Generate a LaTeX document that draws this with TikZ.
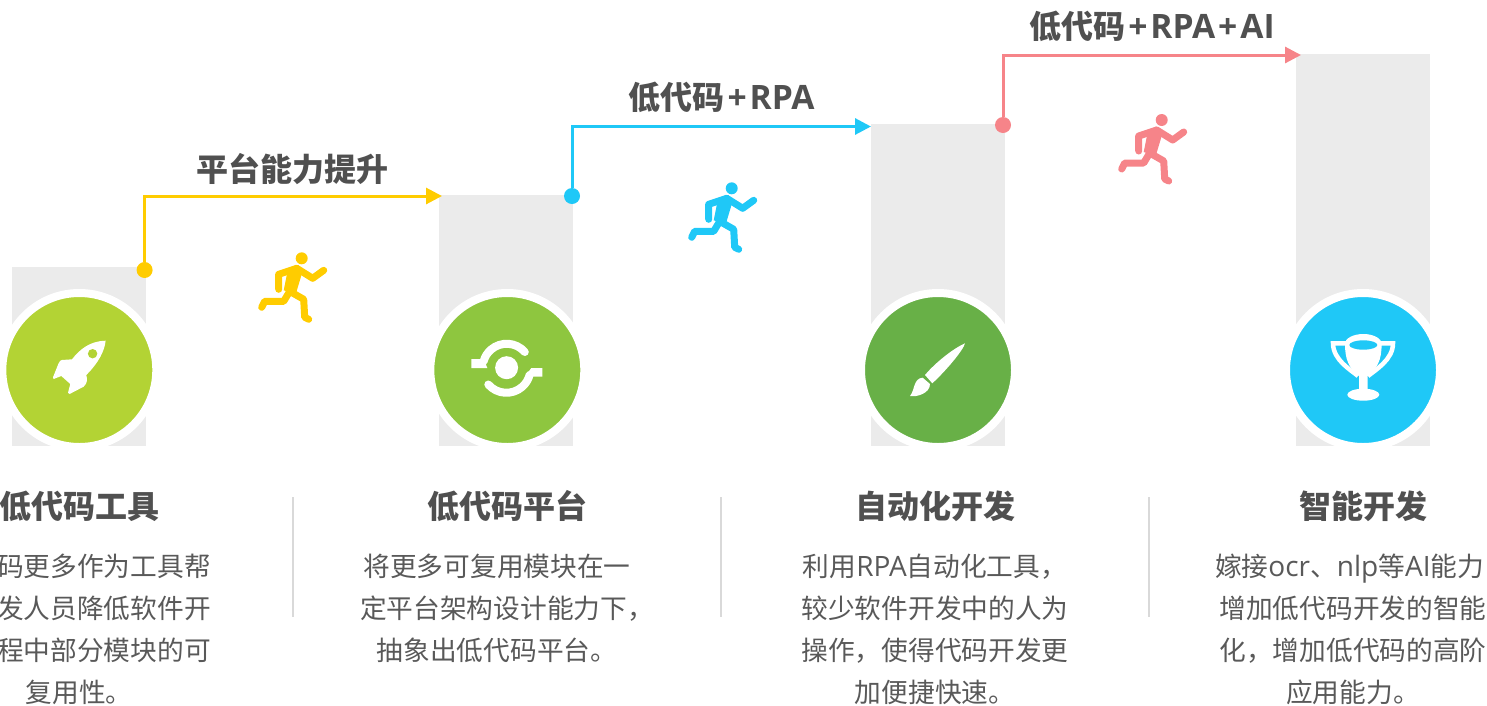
\documentclass[tikz,border=0pt]{standalone}
\usepackage{fontspec}
\setmainfont{Noto Sans CJK SC}
\newfontfamily\latfont[Scale=1.05]{Open Sans}
\usetikzlibrary{arrows.meta}
\definecolor{barfill}{HTML}{EBEBEB}
\definecolor{textgray}{HTML}{595959}
\definecolor{headgray}{HTML}{505050}
\definecolor{sepgray}{HTML}{D9D9D9}
\definecolor{runyellow}{HTML}{FFCC00}
\definecolor{runblue}{HTML}{1FC8F7}
\definecolor{runpink}{HTML}{F68489}
\definecolor{limegreen}{HTML}{B3D334}
\definecolor{leafgreen}{HTML}{8EC63F}
\definecolor{grassgreen}{HTML}{68B047}
\newcommand{\plusgap}{\hspace{3pt}+\hspace{3pt}}
\tikzset{
  badge/.style={circle, draw=white, line width=8pt, minimum size=154pt, inner sep=0pt},
  dot/.style={circle, minimum size=16pt, inner sep=0pt},
  riser/.style={line width=3pt, -{Triangle[length=16pt, width=16pt]}},
  steptitle/.style={text=headgray, font=\fontsize{32}{38}\selectfont\bfseries, inner sep=0pt},
  bodytext/.style={text=textgray, font=\fontsize{26.7}{42}\selectfont, inner sep=0pt},
  sepline/.style={draw=sepgray, line width=1.5pt},
  runner/.pic={
    \fill (0,0) circle (6);
    \fill[line join=round] (-5,7) -- (0,16) -- (-6,36) -- (-18,32) -- (-15,17) -- cycle;
    \draw[line width=7pt, line cap=round, line join=round] (-5,10) -- (-23,16) -- (-23,31);
    \draw[line width=7pt, line cap=round, line join=round] (-5,10) -- (11,20) -- (22,12);
    \draw[line width=7pt, line cap=round, line join=round] (-12,33) -- (2,41) -- (3,59) -- (7,61);
    \draw[line width=7pt, line cap=round, line join=round] (-12,33) -- (-18,43) -- (-37,43) -- (-40,49);
  },
  rocketicon/.pic={
    \fill[white] (26.3,-29.3) .. controls (25.5,-20) and (20,-8) .. (7,5)
      .. controls (8,9) and (8.5,13) .. (4.3,16.7) -- (-9.7,24) -- (-11.3,22.7) -- (-9,14) -- (-18,6)
      -- (-25.7,9) -- (-26.3,7.3) -- (-20.7,-6.7) .. controls (-19.5,-9) and (-18.5,-10) .. (-17.3,-10)
      -- (-7.3,-10.7) .. controls (0,-20) and (10,-29) .. (26.3,-29.3) -- cycle;
    \fill[limegreen] (13.3,-16.3) circle (4.7);
  },
  syncicon/.pic={
    \fill[white] (-0.7,-2.3) circle (11.5);
    \draw[white, line width=8pt, line cap=round] (17.5,-18) arc[start angle=-41, end angle=-165, radius=24];
    \draw[white, line width=8pt, line cap=round] (-19,14.5) arc[start angle=139, end angle=15, radius=24];
    \fill[white] (-36,-11) -- (-25,-11) -- (-22,-7) -- (-20,-2) -- (-36,-2) -- cycle;
    \fill[white] (35,-2) -- (24,-2) -- (21,2) -- (19,6.5) -- (35,6.5) -- cycle;
  },
  brushicon/.pic={
    \fill[white] (27,-26.7) .. controls (12,-20) and (-6.3,-3.3) .. (-13,5) -- (-5.7,13.3)
      .. controls (8.7,0) and (25.3,-20) .. (27,-26.7) -- cycle;
    \fill[white] (-15.3,7.7) -- (-8,14) .. controls (-8,23.3) and (-21.3,27.3) .. (-28,26)
      .. controls (-23,20) and (-24.7,8.3) .. (-15.3,7.7) -- cycle;
  },
  trophyicon/.pic={
    \draw[white, line width=4.5pt] (-17,-26.7) -- (-30,-26.7) .. controls (-30,-10) and (-12,0) .. (-5,6);
    \draw[white, line width=4.5pt] (17,-26.7) -- (30,-26.7) .. controls (30,-10) and (12,0) .. (5,6);
    \fill[white] (0.3,-26) ellipse[x radius=18.5, y radius=10];
    \fill[white] (-18,-26) .. controls (-18,-10) and (-14,-2) .. (-4,6) -- (-4,20) -- (4.6,20) -- (4.6,6)
      .. controls (14.6,-2) and (18.6,-10) .. (18.6,-26) -- cycle;
    \fill[white] (0.3,24.7) ellipse[x radius=16, y radius=6];
    \fill[runblue] (0.3,-25) ellipse[x radius=14, y radius=4.7];
  },
}
\begin{document}
\begin{tikzpicture}[x=1pt, y=-1pt]
  \useasboundingbox (0,0) rectangle (1487,705);
  \foreach \xl/\yt in {12/267, 439/195, 871/124, 1296/54}
    \fill[barfill] (\xl,\yt) rectangle (\xl+134,446);
  \node[badge, fill=limegreen] (toolcircle) at (79.3,370) {};
  \node[badge, fill=leafgreen] (platcircle) at (507.3,370) {};
  \node[badge, fill=grassgreen] (autocircle) at (938,370) {};
  \node[badge, fill=runblue] (smartcircle) at (1363,370) {};
  \pic at (toolcircle) {rocketicon};
  \pic at (platcircle) {syncicon};
  \pic at (autocircle) {brushicon};
  \pic at (smartcircle) {trophyicon};
  \node[dot, fill=runyellow] (dota) at (144.6,270) {};
  \node[dot, fill=runblue] (dotb) at (572,196) {};
  \node[dot, fill=runpink] (dotc) at (1003,125) {};
  \coordinate (tipa) at (442,196);
  \coordinate (tipb) at (871,126.5);
  \coordinate (tipc) at (1301,55);
  \draw[riser, runyellow] (dota) |- (tipa);
  \draw[riser, runblue] (dotb) |- (tipb);
  \draw[riser, runpink] (dotc) |- (tipc);
  \node[steptitle] (capa) at (292.5,169) {平台能力提升};
  \node[steptitle] (capb) at (721.5,97) {低代码{\latfont\plusgap RPA}};
  \node[steptitle] (capc) at (1152,26) {低代码{\latfont\plusgap RPA\plusgap AI}};
  \pic[color=runyellow] at (301.7,258.3) {runner};
  \pic[color=runblue] at (731.7,188.3) {runner};
  \pic[color=runpink] at (1161.7,120) {runner};
  \foreach \xpos in {293, 721, 1149}
    \draw[sepline] (\xpos,497) -- (\xpos,617);
  \node[steptitle] (toolname) at (79,506) {低代码工具};
  \node[steptitle] (platname) at (507,506) {低代码平台};
  \node[steptitle] (autoname) at (935,506) {自动化开发};
  \node[steptitle] (smartname) at (1363,506) {智能开发};
  \node[bodytext, align=right, anchor=north east] (tooltext) at (211,554) {码更多作为工具帮\\发人员降低软件开\\程中部分模块的可};
  \node[bodytext, anchor=north] (toolend) at (79,680) {复用性。};
  \node[bodytext, align=center, anchor=north] (plattext) at (497,554) {将更多可复用模块在一\\\hspace*{20pt}定平台架构设计能力下，\\抽象出低代码平台。};
  \node[bodytext, align=center, anchor=north] (autotext) at (935,554) {利用{\latfont RPA}自动化工具，\\较少软件开发中的人为\\操作，使得代码开发更\\加便捷快速。};
  \node[bodytext, align=center, anchor=north] (smarttext) at (1353,554) {嫁接{\latfont ocr}、{\latfont nlp}等{\latfont AI}能力\hspace*{7pt}\\增加低代码开发的智能\\化，增加低代码的高阶\\应用能力。};
\end{tikzpicture}
\end{document}
